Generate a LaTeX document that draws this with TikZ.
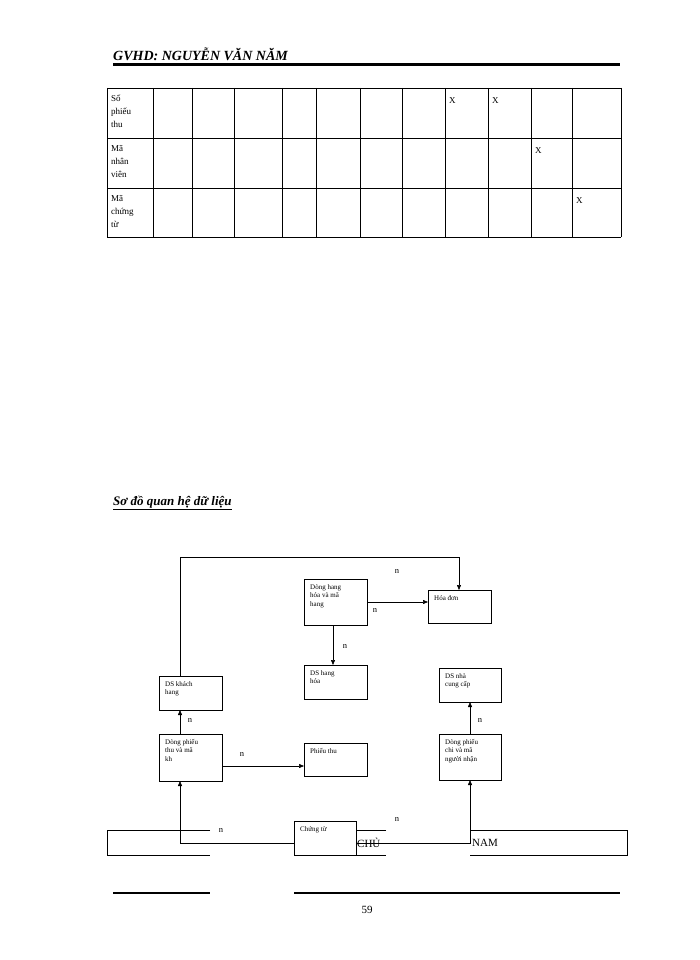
\documentclass[tikz,border=0pt]{standalone}
\usepackage{fontspec}
\setmainfont{Liberation Serif}
\usetikzlibrary{arrows.meta}
\begin{document}
\begin{tikzpicture}[x=1pt,y=-1pt,
  bx/.style={anchor=north west,align=left,font=\fontsize{7}{8.5}\selectfont,inner sep=0pt},
  ar/.style={-{Triangle[length=5pt,width=4pt]},line width=0.5pt},
  lb/.style={font=\fontsize{8.5}{9}\selectfont},
  cell/.style={font=\fontsize{9}{13}\selectfont,anchor=north west,align=left,inner sep=0pt}]
\useasboundingbox (0,0) rectangle (700,960);
% header
\node[anchor=south west,font=\bfseries\itshape\fontsize{14}{16}\selectfont,inner sep=0pt] (hd) at (113,61) {GVHD: NGUYỄN VĂN NĂM};
\draw[line width=2.5pt] (113,64.5) -- (620,64.5);
% table
\foreach \y in {88,138,188,237} \draw[thick] (107,\y) -- (621,\y);
\foreach \x in {107,153,192,234,282,316,360,402,445,488,531,572,621} \draw[thick] (\x,88) -- (\x,237);
\node[cell] (r1) at (111,95) {Số\\phiếu\\thu};
\node[cell] (r2) at (111,145) {Mã\\nhân\\viên};
\node[cell] (r3) at (111,195) {Mã\\chứng\\từ};
\node[cell] (x1) at (449,97) {X};
\node[cell] (x2) at (492,97) {X};
\node[cell] (x3) at (535,147) {X};
\node[cell] (x4) at (576,197) {X};
% title
\node[anchor=south west,font=\bfseries\itshape\fontsize{13}{15}\selectfont,inner sep=0pt] (tt) at (113,510) {\underline{Sơ đồ quan hệ dữ liệu}};
% bottom frame with gaps
\draw[thick] (210,830) -- (107,830) -- (107,855) -- (210,855);
\draw[thick] (386,830) -- (356,830);
\draw[thick] (356,855) -- (386,855);
\draw[thick] (470,830) -- (627,830) -- (627,855) -- (470,855);
% boxes
\draw[thick] (304,579) rectangle (367,625); \node[bx] (dh) at (310,584) {Dòng hang\\hóa và mã\\hang};
\coordinate (dhE) at (367,602); \coordinate (dhS) at (333,625);
\draw[thick] (428,590) rectangle (491,623); \node[bx] (hd2) at (434,595) {Hóa đơn};
\coordinate (hdW) at (428,602); \coordinate (hdN) at (459,590);
\draw[thick] (304,665) rectangle (367,699); \node[bx] (dshh) at (310,670) {DS hang\\hóa};
\coordinate (dshhN) at (333,665);
\draw[thick] (159,676) rectangle (222,710); \node[bx] (dskh) at (165,681) {DS khách\\hang};
\coordinate (dskhS) at (180,710); \coordinate (dskhN) at (180,676);
\draw[thick] (159,734) rectangle (222,781); \node[bx] (dpt) at (165,739) {Dòng phiếu\\thu và mã\\kh};
\coordinate (dptN) at (180,734); \coordinate (dptS) at (180,781); \coordinate (dptE) at (222,766);
\draw[thick] (304,743) rectangle (367,776); \node[bx] (pt) at (310,748) {Phiếu thu};
\coordinate (ptW) at (304,766);
\draw[thick] (439,668) rectangle (501,702); \node[bx] (ncc) at (445,673) {DS nhà\\cung cấp};
\coordinate (nccS) at (470,702);
\draw[thick] (439,734) rectangle (501,780); \node[bx] (dpc) at (445,739) {Dòng phiếu\\chi và mã\\người nhận};
\coordinate (dpcN) at (470,734); \coordinate (dpcS) at (470,780);
\draw[thick,fill=white] (294,821) rectangle (356,855); \node[bx] (ct) at (300,826) {Chứng từ};
\coordinate (ctW) at (294,843); \coordinate (ctE) at (356,843);
\coordinate (tl) at (180,557);
% connectors
\draw[ar] (dskhN) -- (tl) -| (hdN);
\draw[ar] (dhE) -- (hdW);
\draw[ar] (dhS) -- (dshhN);
\draw[ar] (dptN) -- (dskhS);
\draw[ar] (dptE) -- (ptW);
\draw[ar] (ctW) -| (dptS);
\draw[ar] (ctE) -| (dpcS);
\draw[ar] (dpcN) -- (nccS);
% labels
\node[lb] (n1) at (397,571) {n};
\node[lb] (n2) at (375,610) {n};
\node[lb] (n3) at (345,646) {n};
\node[lb] (n4) at (190,720) {n};
\node[lb] (n5) at (242,754) {n};
\node[lb] (n6) at (480,720) {n};
\node[lb] (n7) at (221,830) {n};
\node[lb] (n8) at (397,819) {n};
\node[font=\fontsize{11}{12}\selectfont,anchor=west,inner sep=0pt] (chu) at (357,843) {CHỦ};
\node[font=\fontsize{11}{12}\selectfont,anchor=west,inner sep=0pt] (nam) at (472,843) {NAM};
% footer
\draw[line width=2.5pt] (113,893) -- (210,893);
\draw[line width=2.5pt] (294,893) -- (620,893);
\node[font=\fontsize{11}{12}\selectfont] (pg) at (367,910) {59};
\end{tikzpicture}
\end{document}
